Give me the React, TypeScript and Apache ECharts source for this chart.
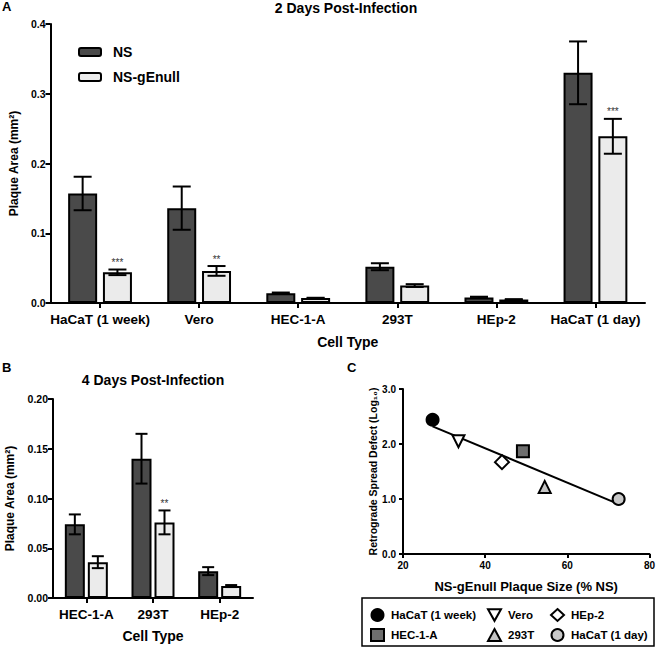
import React, { useEffect, useRef } from "react";
import * as echarts from "echarts";

// ---------- Data ----------
const catsA = ["HaCaT (1 week)", "Vero", "HEC-1-A", "293T", "HEp-2", "HaCaT (1 day)"];
const nsA = [0.157, 0.136, 0.014, 0.052, 0.008, 0.33];
const nsAErr = [0.024, 0.031, 0.001, 0.005, 0.001, 0.045];
const gA = [0.044, 0.046, 0.007, 0.025, 0.005, 0.239];
const gAErr = [0.004, 0.007, 0.0005, 0.002, 0.0005, 0.025];
const starsA = ["***", "**", "", "", "", "***"];

const catsB = ["HEC-1-A", "293T", "HEp-2"];
const nsB = [0.074, 0.14, 0.027];
const nsBErr = [0.01, 0.025, 0.004];
const gB = [0.036, 0.076, 0.012];
const gBErr = [0.006, 0.012, 0.001];
const starsB = ["", "**", ""];

const cNames = ["HaCaT (1 week)", "Vero", "HEp-2", "HEC-1-A", "293T", "HaCaT (1 day)"];
const cX = [27.2, 33.5, 44.1, 49.2, 54.5, 72.5];
const cY = [2.44, 2.05, 1.67, 1.87, 1.22, 1.0];

const yTicksA = { min: 0, max: 0.4, interval: 0.1 };
const yTicksB = { min: 0, max: 0.2, interval: 0.05 };
const xTicksC = { min: 20, max: 80, interval: 20 };
const yTicksC = { min: 0, max: 3, interval: 1 };

// ---------- Styles ----------
const FONT = "'Liberation Sans', Arial, sans-serif";
const NS_COLOR = "#4a4a4a";
const G_COLOR = "#ebebeb";
const DOWN_TRI = "path://M0,0L10,0L5,9Z";
const cStyles: Record<string, any> = {
  "HaCaT (1 week)": { symbol: "circle", color: "#000000" },
  Vero: { symbol: DOWN_TRI, color: "#ffffff" },
  "HEp-2": { symbol: "diamond", color: "#ffffff" },
  "HEC-1-A": { symbol: "rect", color: "#6e6e6e" },
  "293T": { symbol: "triangle", color: "#c4c4c4" },
  "HaCaT (1 day)": { symbol: "circle", color: "#c8c8c8" },
};

function linFit(xs: number[], ys: number[]) {
  const n = xs.length;
  const mx = xs.reduce((a, b) => a + b, 0) / n;
  const my = ys.reduce((a, b) => a + b, 0) / n;
  let sxy = 0, sxx = 0;
  for (let i = 0; i < n; i++) {
    sxy += (xs[i] - mx) * (ys[i] - my);
    sxx += (xs[i] - mx) * (xs[i] - mx);
  }
  const b = sxy / sxx;
  const a = my - b * mx;
  const x0 = Math.min(...xs), x1 = Math.max(...xs);
  return [[x0, a + b * x0], [x1, a + b * x1]];
}

function errSeries(xi: number, vals: number[], errs: number[], offset: number, cap: number, stars?: string[]) {
  return {
    type: "custom",
    xAxisIndex: xi,
    yAxisIndex: xi,
    z: 5,
    silent: true,
    itemStyle: { color: "#333333" },
    data: vals.map((v, i) => [i, v, errs[i]]),
    renderItem: (params: any, api: any) => {
      const i = api.value(0), v = api.value(1), e = api.value(2);
      const top = api.coord([i, v + e]);
      const bot = api.coord([i, v - e]);
      const x = top[0] + offset;
      const st = { stroke: "#000", lineWidth: 2 };
      const children: any[] = [
        { type: "line", shape: { x1: x, y1: top[1], x2: x, y2: bot[1] }, style: st },
        { type: "line", shape: { x1: x - cap / 2, y1: top[1], x2: x + cap / 2, y2: top[1] }, style: st },
        { type: "line", shape: { x1: x - cap / 2, y1: bot[1], x2: x + cap / 2, y2: bot[1] }, style: st },
      ];
      const s = stars && stars[params.dataIndex];
      if (s) {
        children.push({
          type: "text",
          x,
          y: top[1] - 2,
          style: { text: s, fontSize: 10, fill: "#333333", stroke: "none", align: "center", verticalAlign: "bottom", fontFamily: FONT },
        });
      }
      return { type: "group", children };
    },
  };
}

const axisLineStyle = { show: true, lineStyle: { color: "#000", width: 2 } };
const tickStyle = { show: true, length: 5, lineStyle: { color: "#000", width: 2 } };
const labelBase = { color: "#000", fontWeight: "bold", fontFamily: FONT };

export default function App() {
  const ref = useRef<HTMLDivElement>(null);
  useEffect(() => {
    document.body.style.margin = "0";
    const chart = echarts.init(ref.current!, null, { renderer: "svg" });
    const fit = linFit(cX, cY);
    const legendItem = (n: string) => ({ name: n, icon: cStyles[n].symbol });
    const option: any = {
      animation: false,
      backgroundColor: "#ffffff",
      textStyle: { fontFamily: FONT },
      grid: [
        { left: 45, top: 24, width: 600, height: 279 },
        { left: 53, top: 399, width: 200, height: 199 },
        { left: 403, top: 389, width: 250, height: 165 },
      ],
      xAxis: [
        {
          gridIndex: 0, type: "category", data: catsA,
          axisLine: axisLineStyle,
          axisTick: { ...tickStyle, alignWithLabel: true, interval: 0 },
          axisLabel: { ...labelBase, fontSize: 13.5, margin: 9, interval: 0 },
          name: "Cell Type", nameLocation: "middle", nameGap: 32,
          nameTextStyle: { ...labelBase, fontSize: 14 },
        },
        {
          gridIndex: 1, type: "category", data: catsB,
          axisLine: axisLineStyle,
          axisTick: { ...tickStyle, alignWithLabel: true, interval: 0 },
          axisLabel: { ...labelBase, fontSize: 13.5, margin: 9, interval: 0 },
          name: "Cell Type", nameLocation: "middle", nameGap: 31,
          nameTextStyle: { ...labelBase, fontSize: 14 },
        },
        {
          gridIndex: 2, type: "value", ...xTicksC,
          axisLine: axisLineStyle,
          axisTick: { ...tickStyle, length: 4 },
          splitLine: { show: false },
          axisLabel: { ...labelBase, fontSize: 10, margin: 6 },
          name: "NS-gEnull Plaque Size (% NS)", nameLocation: "middle", nameGap: 26,
          nameTextStyle: { ...labelBase, fontSize: 13 },
        },
      ],
      yAxis: [
        {
          gridIndex: 0, type: "value", ...yTicksA,
          axisLine: axisLineStyle, axisTick: tickStyle, splitLine: { show: false },
          axisLabel: { ...labelBase, fontSize: 10.5, margin: 5, formatter: (v: number) => v.toFixed(1) },
          name: "Plaque Area (mm²)", nameLocation: "middle", nameGap: 29, nameRotate: 90,
          nameTextStyle: { ...labelBase, fontSize: 12 },
        },
        {
          gridIndex: 1, type: "value", ...yTicksB,
          axisLine: axisLineStyle, axisTick: tickStyle, splitLine: { show: false },
          axisLabel: { ...labelBase, fontSize: 10.5, margin: 5, formatter: (v: number) => v.toFixed(2) },
          name: "Plaque Area (mm²)", nameLocation: "middle", nameGap: 37, nameRotate: 90,
          nameTextStyle: { ...labelBase, fontSize: 12 },
        },
        {
          gridIndex: 2, type: "value", ...yTicksC,
          axisLine: axisLineStyle, axisTick: { ...tickStyle, length: 4 }, splitLine: { show: false },
          axisLabel: { ...labelBase, fontSize: 10, margin: 7, formatter: (v: number) => v.toFixed(1) },
          name: "Retrograde Spread Defect (Log₁₀)", nameLocation: "middle", nameGap: 24, nameRotate: 90,
          nameTextStyle: { ...labelBase, fontSize: 10.5 },
        },
      ],
      legend: [
        {
          left: 78, top: 45, padding: 0, orient: "vertical", itemWidth: 22, itemHeight: 8, itemGap: 11,
          data: ["NS", "NS-gEnull"],
          textStyle: { ...labelBase, fontSize: 14, lineHeight: 14, padding: [0, 0, 0, 7] },
          selectedMode: false,
        },
        ...[
          { left: 370, names: ["HaCaT (1 week)", "HEC-1-A"] },
          { left: 487, names: ["Vero", "293T"] },
          { left: 550, names: ["HEp-2", "HaCaT (1 day)"] },
        ].map((c) => ({
          left: c.left, top: 608, padding: 0, orient: "vertical", itemWidth: 13, itemHeight: 12, itemGap: 6,
          data: c.names.map(legendItem),
          textStyle: { ...labelBase, fontSize: 11.5, lineHeight: 14, padding: [0, 0, 0, 2] },
          selectedMode: false,
        })),
      ],
      series: [
        {
          name: "NS", type: "bar", xAxisIndex: 0, yAxisIndex: 0, data: nsA,
          barWidth: 29, barGap: "20%",
          itemStyle: { color: NS_COLOR, borderColor: "#000", borderWidth: 2 },
        },
        {
          name: "NS-gEnull", type: "bar", xAxisIndex: 0, yAxisIndex: 0, data: gA,
          barWidth: 29, barGap: "20%",
          itemStyle: { color: G_COLOR, borderColor: "#000", borderWidth: 2 },
        },
        errSeries(0, nsA, nsAErr, -17.4, 18),
        errSeries(0, gA, gAErr, 17.4, 18, starsA),
        {
          name: "NS", type: "bar", xAxisIndex: 1, yAxisIndex: 1, data: nsB,
          barWidth: 20, barGap: "15%",
          itemStyle: { color: NS_COLOR, borderColor: "#000", borderWidth: 2 },
        },
        {
          name: "NS-gEnull", type: "bar", xAxisIndex: 1, yAxisIndex: 1, data: gB,
          barWidth: 20, barGap: "15%",
          itemStyle: { color: G_COLOR, borderColor: "#000", borderWidth: 2 },
        },
        errSeries(1, nsB, nsBErr, -11.5, 12),
        errSeries(1, gB, gBErr, 11.5, 12, starsB),
        {
          type: "line", xAxisIndex: 2, yAxisIndex: 2, data: fit, showSymbol: false, symbol: "none",
          lineStyle: { color: "#000", width: 2 }, silent: true, z: 2,
        },
        ...cNames.map((n, i) => ({
          name: n, type: "scatter", xAxisIndex: 2, yAxisIndex: 2,
          data: [[cX[i], cY[i]]],
          symbol: cStyles[n].symbol,
          symbolSize: cStyles[n].symbol === "diamond" ? 14 : 12,
          itemStyle: { color: cStyles[n].color, borderColor: "#000", borderWidth: 2, opacity: 1 },
          z: 4,
        })),
      ],
      graphic: [
        { type: "text", left: 2, top: 0, style: { text: "A", fontSize: 13, fontWeight: "bold", fontFamily: FONT, fill: "#000" } },
        { type: "text", left: 2, top: 361, style: { text: "B", fontSize: 13, fontWeight: "bold", fontFamily: FONT, fill: "#000" } },
        { type: "text", left: 347, top: 361, style: { text: "C", fontSize: 13, fontWeight: "bold", fontFamily: FONT, fill: "#000" } },
        { type: "text", x: 346, y: 8, style: { text: "2 Days Post-Infection", fontSize: 14, fontWeight: "bold", fontFamily: FONT, fill: "#000", align: "center", verticalAlign: "middle" } },
        { type: "text", x: 153, y: 380, style: { text: "4 Days Post-Infection", fontSize: 14, fontWeight: "bold", fontFamily: FONT, fill: "#000", align: "center", verticalAlign: "middle" } },
        { type: "rect", shape: { x: 362, y: 598, width: 292, height: 48 }, style: { fill: "none", stroke: "#000", lineWidth: 1.5 } },
      ],
    };
    chart.setOption(option);
    return () => chart.dispose();
  }, []);
  return <div ref={ref} style={{ width: 658, height: 647 }} />;
}
